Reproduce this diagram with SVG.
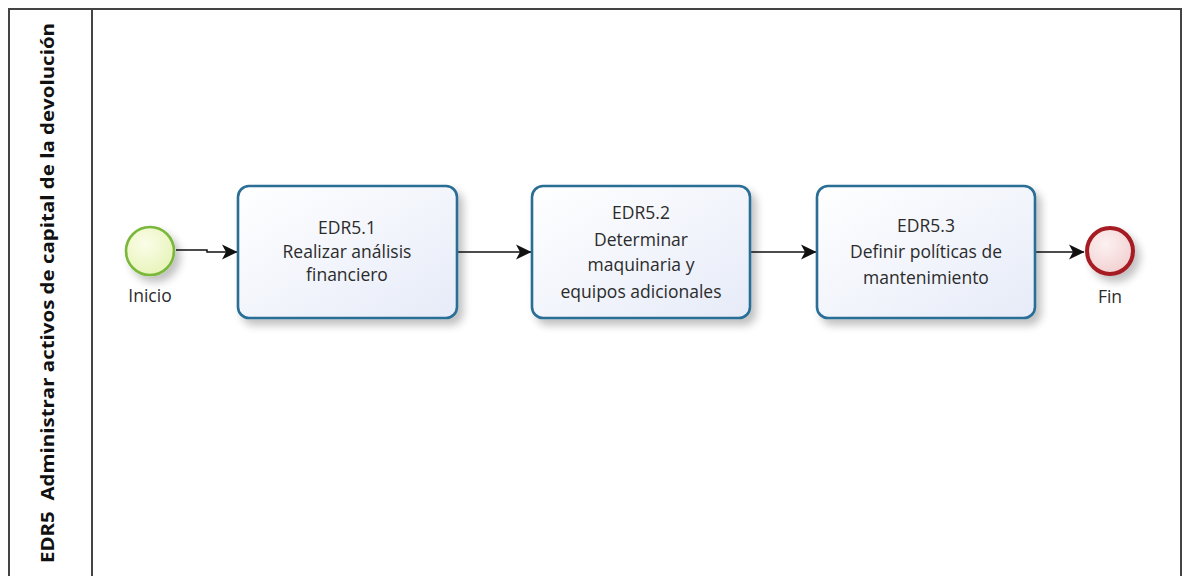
<svg xmlns="http://www.w3.org/2000/svg" width="1186" height="576" viewBox="0 0 1186 576">
  <style>
    .lbl { font-family: "Open Sans", "Noto Sans", sans-serif; font-size: 17.5px; fill: #2b2b2b; text-anchor: middle; }
    .task { fill: url(#taskFill); stroke: #2a6e96; stroke-width: 2.6; }
    .flow { fill: none; stroke: #111; stroke-width: 1.5; marker-end: url(#arrow); }
    .lane { fill: none; stroke: #444; stroke-width: 2; }
  </style>
  <defs>
    <linearGradient id="taskFill" x1="0" y1="0" x2="1" y2="1">
      <stop offset="0" stop-color="#ffffff"/>
      <stop offset="1" stop-color="#e6ebf8"/>
    </linearGradient>
    <radialGradient id="startFill" cx="0.4" cy="0.35" r="0.7">
      <stop offset="0" stop-color="#fbfde8"/>
      <stop offset="1" stop-color="#e6f3b8"/>
    </radialGradient>
    <radialGradient id="endFill" cx="0.4" cy="0.35" r="0.7">
      <stop offset="0" stop-color="#fdf1f1"/>
      <stop offset="1" stop-color="#f1cfd0"/>
    </radialGradient>
    <filter id="shadow" x="-20%" y="-20%" width="150%" height="150%">
      <feGaussianBlur in="SourceAlpha" stdDeviation="4"/>
      <feOffset dx="5" dy="6" result="b"/>
      <feComponentTransfer><feFuncA type="linear" slope="0.25"/></feComponentTransfer>
      <feMerge><feMergeNode/><feMergeNode in="SourceGraphic"/></feMerge>
    </filter>
    <marker id="arrow" viewBox="0 0 16 16" refX="15" refY="8" markerWidth="16" markerHeight="16" markerUnits="userSpaceOnUse" orient="auto">
      <path d="M0,0.5 L15.5,8 L0,15.5 L4,8 Z" fill="#111"/>
    </marker>
  </defs>

  <rect width="1186" height="576" fill="#ffffff"/>

  <!-- pool and lane header -->
  <g id="pool">
    <path class="lane" d="M9,577 V9 H1181 V577"/>
    <line class="lane" x1="92" y1="9" x2="92" y2="577"/>
    <text transform="translate(54,293) rotate(-90)" text-anchor="middle" font-family="'Open Sans', 'Noto Sans', sans-serif" font-weight="bold" font-size="17" fill="#111" textLength="540" lengthAdjust="spacingAndGlyphs" style="white-space:pre">EDR5  Administrar activos de capital de la devolución</text>
  </g>

  <!-- sequence flows -->
  <g id="connectors">
    <path class="flow" d="M176,250 H207 V252 H237"/>
    <path class="flow" d="M458,252 H531"/>
    <path class="flow" d="M751,252 H816"/>
    <path class="flow" d="M1036,252 H1084"/>
  </g>

  <g id="start">
    <circle cx="150" cy="251" r="24" fill="url(#startFill)" stroke="#7ab83a" stroke-width="2.6" filter="url(#shadow)"/>
    <text class="lbl" x="150" y="302">Inicio</text>
  </g>

  <g id="task1">
    <rect class="task" x="238" y="186" width="219" height="132" rx="11" filter="url(#shadow)"/>
    <text class="lbl" x="347" y="234">EDR5.1</text>
    <text class="lbl" x="347" y="258">Realizar análisis</text>
    <text class="lbl" x="347" y="281">financiero</text>
  </g>

  <g id="task2">
    <rect class="task" x="532" y="186" width="218" height="132" rx="11" filter="url(#shadow)"/>
    <text class="lbl" x="641" y="219">EDR5.2</text>
    <text class="lbl" x="641" y="246">Determinar</text>
    <text class="lbl" x="641" y="271">maquinaria y</text>
    <text class="lbl" x="641" y="298">equipos adicionales</text>
  </g>

  <g id="task3">
    <rect class="task" x="817" y="186" width="218" height="132" rx="11" filter="url(#shadow)"/>
    <text class="lbl" x="926" y="232">EDR5.3</text>
    <text class="lbl" x="926" y="258">Definir políticas de</text>
    <text class="lbl" x="926" y="284">mantenimiento</text>
  </g>

  <g id="end">
    <circle cx="1110" cy="251" r="23" fill="url(#endFill)" stroke="#a51c24" stroke-width="4" filter="url(#shadow)"/>
    <text class="lbl" x="1110" y="303">Fin</text>
  </g>
</svg>
